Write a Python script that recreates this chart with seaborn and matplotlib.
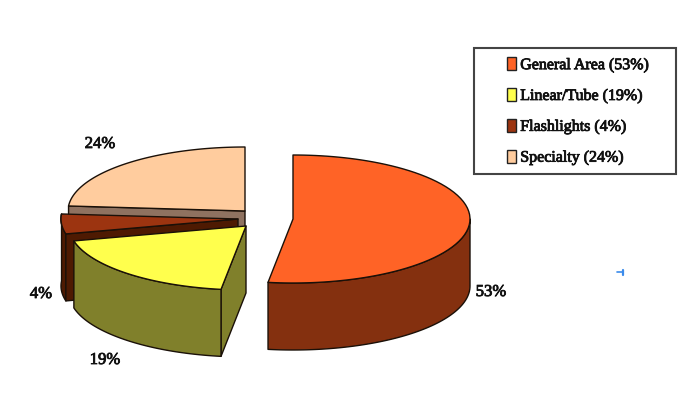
import numpy as np
import matplotlib
matplotlib.use("Agg")
import matplotlib.pyplot as plt
import matplotlib.patheffects as pe
from matplotlib.patches import Polygon, Patch, Rectangle
import seaborn as sns

categories = ["General Area", "Linear/Tube", "Flashlights", "Specialty"]
shares = [53, 19, 4, 24]
top_colors = ["#FF6326", "#FFFF4D", "#9C3410", "#FFCC9E"]
side_colors = ["#84300F", "#80802B", "#4E1A02", "#8F7260"]
centers = [(293, 219), (246, 226), (238, 219), (245, 211)]
label_pos = [(491, 292), (105, 360), (41, 294), (100, 144)]

RX, RY, DEPTH = 177, 64, 67
WARP = -7.3
EDGE = "#1a1008"

sns.set_theme(style="white")
plt.rcParams["font.family"] = ["Liberation Serif", "DejaVu Serif"]

fig = plt.figure(figsize=(7.0, 4.18), dpi=100)
ax = fig.add_axes([0, 0, 1, 1])
ax.set_xlim(0, 700)
ax.set_ylim(418, 0)
ax.axis("off")


def rim(c, t0, t1, n=80):
    deg = np.linspace(t0, t1, n)
    t = np.radians(deg + WARP * np.sin(np.radians(2 * deg)))
    return np.column_stack([c[0] + RX * np.sin(t), c[1] - RY * np.cos(t)])


def poly(pts, fc, z):
    ax.add_patch(Polygon(pts, closed=True, facecolor=fc, edgecolor=EDGE,
                         linewidth=1.0, joinstyle="round", zorder=z))


def shifted(pts):
    return pts + np.array([0, DEPTH])


edges = np.concatenate([[0], np.cumsum(shares)]) * 3.6
heavy = [pe.withStroke(linewidth=0.6, foreground="#111111")]

for z, i in enumerate([3, 2, 1, 0]):
    t0, t1 = edges[i], edges[i + 1]
    c = np.array(centers[i], dtype=float)
    base = z * 10
    arc = rim(c, t0, t1)

    if i == 3:
        a = rim(c, t0, t0, 1)[0]
        poly(np.array([a, c, c + [0, DEPTH], a + [0, DEPTH]]), side_colors[i], base)
    if i == 2:
        poly(np.vstack([arc, shifted(arc)[::-1]]), side_colors[i], base)
        a = rim(c, t0, t0, 1)[0]
        poly(np.array([c, a, a + [0, DEPTH], c + [0, DEPTH]]), side_colors[i], base + 1)
    if i == 1:
        a = rim(c, t0, t0, 1)[0]
        poly(np.array([c, a, a + [0, DEPTH], c + [0, DEPTH]]), side_colors[i], base)
        poly(np.vstack([arc, shifted(arc)[::-1]]), side_colors[i], base + 1)
    if i == 0:
        wall = rim(c, 90, t1)
        poly(np.vstack([wall, shifted(wall)[::-1]]), side_colors[i], base)

    poly(np.vstack([[c], arc]), top_colors[i], base + 2)

for (x, y), s in zip(label_pos, shares):
    ax.text(x, y, f"{s}%", ha="center", va="center", fontsize=12,
            color="#111111", zorder=60, path_effects=heavy)

ax.add_patch(Rectangle((474, 48), 202, 126, facecolor="white", edgecolor="#444444",
                       linewidth=1.5, zorder=65))

handles = [Patch(facecolor=col, edgecolor="#222222", linewidth=1.0) for col in top_colors]
labels = [f"{n} ({s}%)" for n, s in zip(categories, shares)]
leg = ax.legend(handles, labels, loc="upper left", bbox_to_anchor=(507, 57),
                bbox_transform=ax.transData, fontsize=11.5, frameon=False,
                handlelength=0.58, handleheight=0.9, handletextpad=0.25,
                labelspacing=0.92, borderpad=0, borderaxespad=0)
leg.set_zorder(70)
for t in leg.get_texts():
    t.set_color("#111111")
    t.set_path_effects(heavy)

ax.plot([617, 623], [272, 272], color="#3B8BEB", lw=1.2, zorder=80)
ax.plot([623, 623], [270, 275], color="#3B8BEB", lw=1.6, zorder=80)

fig.savefig("out.png", dpi=100, facecolor="white")
